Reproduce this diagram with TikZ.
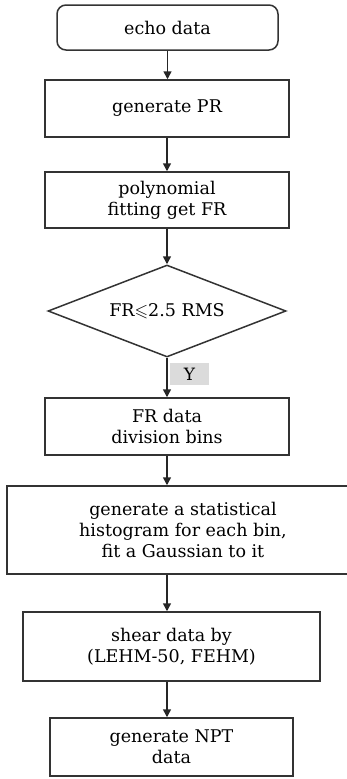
\documentclass[tikz,border=0pt]{standalone}
\usepackage{amssymb}
\usepackage{fontspec}
\setmainfont{DejaVu Serif}
\usetikzlibrary{shapes.geometric,arrows.meta}
\begin{document}
\begin{tikzpicture}[x=1pt,y=-1pt,
  every node/.style={font=\fontsize{17.5}{21}\selectfont, align=center, inner sep=0pt, text=black},
  box/.style={draw=black!80, line width=1.5pt, rectangle},
  rbox/.style={box, rounded corners=9pt},
  dia/.style={draw=black!80, line width=1.5pt, diamond, aspect=2.59},
  flow/.style={draw=black!85, line width=1.5pt, -{Triangle[length=8pt,width=8pt]}},
  ylab/.style={fill=black!14, minimum width=39pt, minimum height=22pt, font=\fontsize{17}{18}\selectfont}]
\useasboundingbox (0,0) rectangle (347,779);
\node[rbox, minimum width=221pt, minimum height=45pt] (echo) at (167.5,27.5) {echo data};
\node[box, minimum width=244pt, minimum height=57pt] (pr) at (167,108.5) {generate PR};
\node[box, minimum width=244pt, minimum height=56pt] (poly) at (167,200) {polynomial\\fitting get FR};
\node[dia, minimum width=238pt, minimum height=92pt] (cond) at (167,311) {FR$\leqslant$2.5 RMS};
\node[ylab] (y) at (189.5,374) {Y};
\node[box, minimum width=244pt, minimum height=57pt] (bins) at (167,426.5) {FR data\\division bins};
\node[box, minimum width=352pt, minimum height=88pt] (hist) at (183,530) {generate a statistical\\histogram for each bin,\\fit a Gaussian to it};
\node[box, minimum width=297pt, minimum height=69pt] (shear) at (171.5,646.5) {shear data by\\(LEHM-50, FEHM)};
\node[box, minimum width=243pt, minimum height=58pt] (npt) at (171.5,747) {generate NPT\\data};
\draw[flow] (echo.south) -- (echo.south |- pr.north);
\draw[flow] (pr.south) -- (pr.south |- poly.north);
\draw[flow] (poly.south) -- (poly.south |- cond.north);
\draw[flow] (cond.south) -- (cond.south |- bins.north);
\draw[flow] (bins.south) -- (bins.south |- hist.north);
\draw[flow] (bins.south |- hist.south) -- (bins.south |- shear.north);
\draw[flow] (bins.south |- shear.south) -- (bins.south |- npt.north);
\end{tikzpicture}
\end{document}
